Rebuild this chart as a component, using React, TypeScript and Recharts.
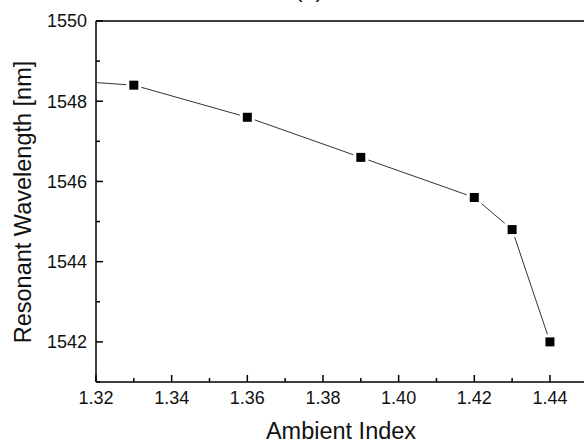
import { LineChart, Line, XAxis, YAxis, ReferenceLine, Customized } from 'recharts'

// ambient index vs resonant wavelength
const ambientIndex = [1.31, 1.33, 1.36, 1.39, 1.42, 1.43, 1.44]
const wavelength = [1548.53, 1548.4, 1547.6, 1546.6, 1545.6, 1544.8, 1542.0]

const xTicks = [1.32, 1.33, 1.34, 1.35, 1.36, 1.37, 1.38, 1.39, 1.4, 1.41, 1.42, 1.43, 1.44]
const xMajor = [1.32, 1.34, 1.36, 1.38, 1.4, 1.42, 1.44]
const yTicks = [1541, 1542, 1543, 1544, 1545, 1546, 1547, 1548, 1549, 1550]
const yMajor = [1542, 1544, 1546, 1548, 1550]

const data = ambientIndex.map((x, i) => ({ x, y: wavelength[i] }))

const FONT = '"Liberation Sans", Arial, sans-serif'

const isMajor = (list: number[], v: number) => list.some((m) => Math.abs(m - v) < 1e-6)

const XTick = (props: any) => {
  const { x, y, payload } = props
  const major = isMajor(xMajor, payload.value)
  return (
    <g>
      <line x1={x} x2={x} y1={y} y2={y - (major ? 7 : 4)} stroke="#000" strokeWidth={1.5} />
      {major && (
        <text x={x} y={y + 22} textAnchor="middle" fontSize={18} fontFamily={FONT} fill="#111">
          {payload.value.toFixed(2)}
        </text>
      )}
    </g>
  )
}

const YTick = (props: any) => {
  const { x, y, payload } = props
  const major = isMajor(yMajor, payload.value)
  return (
    <g>
      <line x1={x} x2={x + (major ? 7 : 4)} y1={y} y2={y} stroke="#000" strokeWidth={1.5} />
      {major && (
        <text x={x - 9} y={y} dy="0.35em" textAnchor="end" fontSize={18} fontFamily={FONT} fill="#111">
          {payload.value}
        </text>
      )}
    </g>
  )
}

const Marker = (props: any) => {
  const { cx, cy, payload } = props
  if (payload.x < 1.32) return null
  return (
    <g>
      <rect x={cx - 7.5} y={cy - 7.5} width={15} height={15} fill="#fff" />
      <rect x={cx - 4.5} y={cy - 4.5} width={9} height={9} fill="#000" />
    </g>
  )
}

const AxisTitles = () => (
  <g fontFamily={FONT} fill="#111" fontSize={23.5}>
    <text x={341} y={439} textAnchor="middle">
      Ambient Index
    </text>
    <text transform="translate(31, 202) rotate(-90)" textAnchor="middle">
      Resonant Wavelength [nm]
    </text>
  </g>
)

export default function App() {
  return (
    <div style={{ position: 'relative', width: 584, height: 443, overflow: 'hidden' }}>
      <style>{'body { margin: 0; }'}</style>
      <div
        style={{
          position: 'absolute',
          left: 294,
          top: -24,
          width: 30,
          textAlign: 'center',
          fontFamily: FONT,
          fontSize: 23.5,
          color: '#111',
        }}
      >
        (a)
      </div>
      <LineChart width={584} height={443} data={data} margin={{ top: 21, right: 0, bottom: 0, left: 0 }}>
        <XAxis
          type="number"
          dataKey="x"
          domain={[1.32, 1.449]}
          ticks={xTicks}
          allowDataOverflow
          height={61}
          tickSize={0}
          tickMargin={0}
          tickLine={false}
          tick={<XTick />}
          interval={0}
          axisLine={{ stroke: '#000', strokeWidth: 1.5 }}
        />
        <YAxis
          type="number"
          dataKey="y"
          domain={[1541, 1550]}
          ticks={yTicks}
          allowDataOverflow
          width={96}
          tickSize={0}
          tickMargin={0}
          tickLine={false}
          tick={<YTick />}
          interval={0}
          axisLine={{ stroke: '#000', strokeWidth: 1.5 }}
        />
        <ReferenceLine y={1550} stroke="#000" strokeWidth={1.5} />
        <Line
          type="linear"
          dataKey="y"
          stroke="#333"
          strokeWidth={1}
          dot={<Marker />}
          activeDot={false}
          isAnimationActive={false}
        />
        <Customized component={AxisTitles} />
      </LineChart>
    </div>
  )
}
